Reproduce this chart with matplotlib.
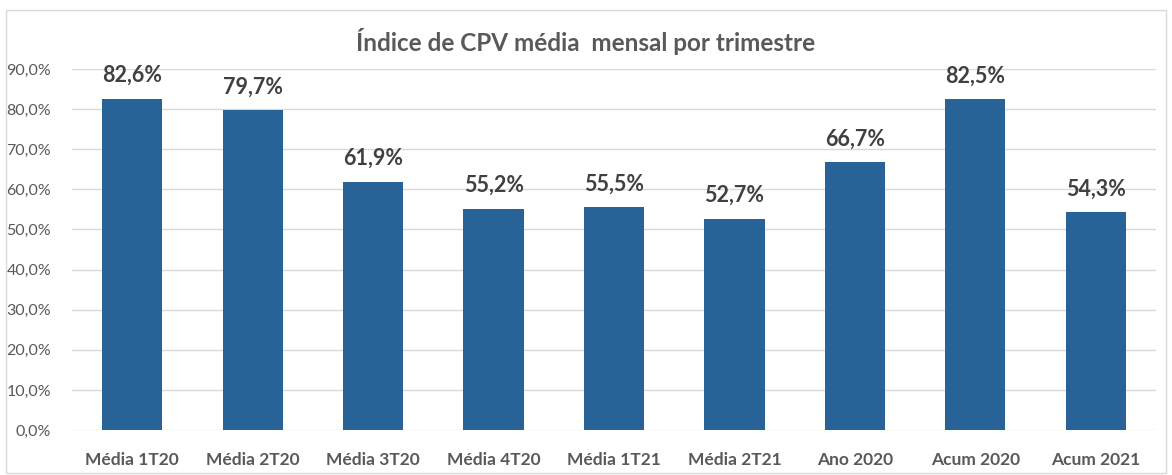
import numpy as np
import matplotlib.pyplot as plt
from matplotlib.patches import Rectangle

categories = ["Média 1T20", "Média 2T20", "Média 3T20", "Média 4T20", "Média 1T21",
              "Média 2T21", "Ano 2020", "Acum 2020", "Acum 2021"]
values = [82.6, 79.7, 61.9, 55.2, 55.5, 52.7, 66.7, 82.5, 54.3]
yticks = np.arange(0, 91, 10)

plt.rcParams['font.family'] = ['Lato', 'DejaVu Sans']

fig = plt.figure(figsize=(11.72, 4.75), dpi=100)
ax = fig.add_axes([0.0614, 0.0947, 0.925, 0.76])

x = np.arange(len(categories))
ax.bar(x, values, width=0.5, color="#286398", zorder=3)

for xi, v in zip(x, values):
    ax.text(xi, v + 3.2, f"{v:.1f}%".replace(".", ","), ha="center", va="bottom",
            fontsize=15.5, fontweight="bold", color="#404040")

ax.set_xlim(-0.5, len(categories) - 0.5)
ax.set_ylim(0, 90)
ax.set_yticks(yticks)
ax.set_yticklabels([f"{t:.1f}%".replace(".", ",") for t in yticks],
                   fontsize=11.5, color="#595959")
ax.set_xticks(x)
ax.set_xticklabels(categories, fontsize=12.5, fontweight="bold", color="#595959")
ax.tick_params(axis="x", length=0, pad=16)
ax.tick_params(axis="y", length=0, pad=15)
ax.grid(axis="y", color="#d9d9d9", linewidth=1, zorder=0)
for s in ax.spines.values():
    s.set_visible(False)

fig.text(0.5, 0.912, "Índice de CPV média  mensal por trimestre", ha="center", va="center",
         fontsize=17.5, fontweight="bold", color="#595959")

fig.patches.append(Rectangle((0.005, 0.005), 0.99, 0.975, transform=fig.transFigure,
                             fill=False, edgecolor="#d9d9d9", linewidth=1))

fig.savefig("out.png", dpi=100)
